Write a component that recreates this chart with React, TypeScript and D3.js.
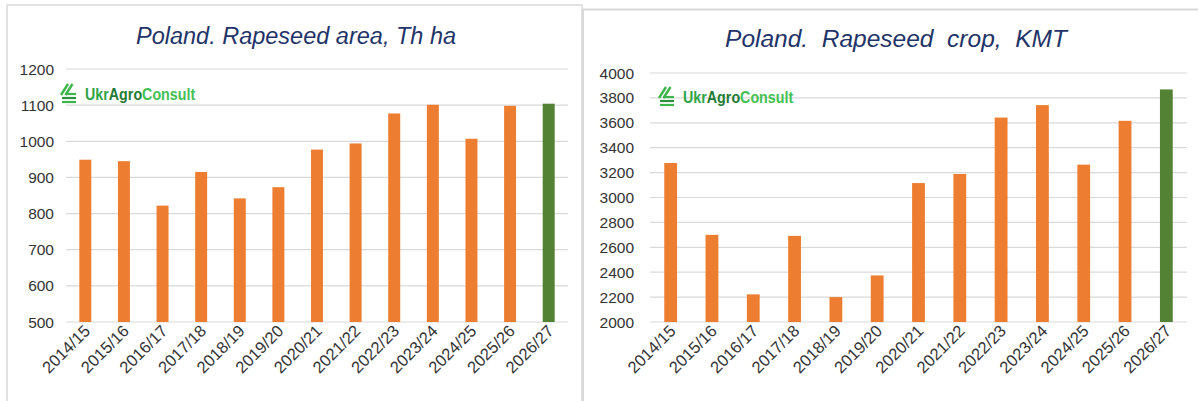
import * as d3 from 'd3'
import React from 'react'

const seasons = ['2014/15', '2015/16', '2016/17', '2017/18', '2018/19', '2019/20', '2020/21',
  '2021/22', '2022/23', '2023/24', '2024/25', '2025/26', '2026/27']
const areaValues = [949, 945, 822, 915, 842, 873, 977, 994, 1077, 1101, 1007, 1098, 1104]
const cropValues = [3277, 2700, 2222, 2692, 2200, 2374, 3116, 3189, 3642, 3742, 3264, 3616, 3868]
const areaTicks = [500, 600, 700, 800, 900, 1000, 1100, 1200]
const cropTicks = [2000, 2200, 2400, 2600, 2800, 3000, 3200, 3400, 3600, 3800, 4000]
const forecastSeason = '2026/27'
const logoParts = [['Ukr', '#2fa447'], ['Agro', '#1f7a33'], ['Consult', '#43c152']]

const ORANGE = '#ED7D31'
const GREEN = '#548235'
const GRID = '#d9d9d9'
const TITLE = '#1F3468'
const LABEL = '#333333'
const FONT = 'Liberation Sans, Arial, sans-serif'

export default function App() {
  const ref = React.useRef<SVGSVGElement>(null)

  React.useEffect(() => {
    const svg = d3.select(ref.current)
    svg.selectAll('*').remove()
    drawFrames(svg)
    drawChart(svg, {
      title: 'Poland. Rapeseed area, Th ha', titleX: 296, titleY: 44, titleSize: 23.5,
      values: areaValues, ticks: areaTicks, domain: [500, 1200],
      x0: 66, x1: 568, yTop: 69, yBottom: 322, labelX: 54, logoX: 60, logoY: 84,
    })
    drawChart(svg, {
      title: 'Poland.  Rapeseed  crop,  KMT', titleX: 896, titleY: 47, titleSize: 24.5,
      values: cropValues, ticks: cropTicks, domain: [2000, 4000],
      x0: 650, x1: 1187, yTop: 73, yBottom: 322, labelX: 634, logoX: 658, logoY: 87,
    })
  }, [])

  function drawFrames(svg: any) {
    svg.append('rect')
      .attr('x', 7).attr('y', 5).attr('width', 575).attr('height', 410)
      .attr('fill', '#fff').attr('stroke', GRID).attr('stroke-width', 1.5)
    svg.append('line')
      .attr('x1', 583).attr('x2', 1198).attr('y1', 9.5).attr('y2', 9.5)
      .attr('stroke', GRID).attr('stroke-width', 2)
    svg.append('line')
      .attr('x1', 583).attr('x2', 583).attr('y1', 9).attr('y2', 401)
      .attr('stroke', GRID).attr('stroke-width', 2)
  }

  function drawLogo(g: any, x: number, y: number) {
    const logo = g.append('g').attr('transform', `translate(${x},${y})`)
    // slanted stripes + three bars
    logo.append('line').attr('x1', 1).attr('y1', 11).attr('x2', 8).attr('y2', 0)
      .attr('stroke', '#3db54a').attr('stroke-width', 2.4)
    logo.append('line').attr('x1', 5.5).attr('y1', 11).attr('x2', 12.5).attr('y2', 0)
      .attr('stroke', '#3db54a').attr('stroke-width', 2.4)
    ;[10, 14, 18].forEach((yy, i) => {
      logo.append('line').attr('x1', i === 0 ? 5 : 2).attr('x2', 16).attr('y1', yy).attr('y2', yy)
        .attr('stroke', i === 1 ? '#2b8f3c' : '#3db54a').attr('stroke-width', 2.2)
    })
    // condensed wordmark
    const word = logo.append('g').attr('transform', 'translate(25,0) scale(0.84,1)')
    let cx = 0
    logoParts.forEach(([part, color]) => {
      const t = word.append('text')
        .attr('x', cx).attr('y', 16)
        .attr('font-family', FONT)
        .attr('font-weight', 'bold').attr('font-size', 17)
        .attr('fill', color)
        .text(part)
      cx += (t.node() as SVGTextElement).getComputedTextLength()
    })
  }

  function drawChart(svg: any, c: any) {
    const g = svg.append('g')
    const x = d3.scaleBand<string>().domain(seasons).range([c.x0, c.x1])
      .paddingInner(0.69).paddingOuter(0.345)
    const y = d3.scaleLinear().domain(c.domain).range([c.yBottom, c.yTop])

    g.append('text')
      .attr('x', c.titleX).attr('y', c.titleY)
      .attr('text-anchor', 'middle')
      .attr('font-family', FONT).attr('font-style', 'italic').attr('font-size', c.titleSize)
      .attr('fill', TITLE)
      .style('white-space', 'pre')
      .text(c.title)

    g.selectAll('.grid')
      .data(c.ticks).enter().append('line')
      .attr('x1', c.x0).attr('x2', c.x1)
      .attr('y1', (d: number) => y(d)).attr('y2', (d: number) => y(d))
      .attr('stroke', GRID).attr('stroke-width', 1.2)

    g.selectAll('.ylab')
      .data(c.ticks).enter().append('text')
      .attr('x', c.labelX).attr('y', (d: number) => y(d) + 5.5)
      .attr('text-anchor', 'end')
      .attr('font-family', FONT).attr('font-size', 15.5).attr('fill', LABEL)
      .text((d: number) => d)

    drawLogo(g, c.logoX, c.logoY)

    g.selectAll('.bar')
      .data(c.values).enter().append('rect')
      .attr('x', (d: number, i: number) => x(seasons[i]))
      .attr('y', (d: number) => y(d))
      .attr('width', x.bandwidth())
      .attr('height', (d: number) => y(c.domain[0]) - y(d))
      .attr('fill', (d: number, i: number) => seasons[i] === forecastSeason ? GREEN : ORANGE)

    g.selectAll('.xlab')
      .data(seasons).enter().append('text')
      .attr('transform', (d: string) => `translate(${(x(d) as number) + x.bandwidth() / 2 + 6},${c.yBottom + 10}) rotate(-45)`)
      .attr('text-anchor', 'end')
      .attr('font-family', FONT).attr('font-size', 16.5).attr('fill', LABEL)
      .text((d: string) => d)
  }

  return (
    <svg ref={ref} width={1198} height={401}
      style={{ position: 'absolute', left: 0, top: 0, background: '#fff' }} />
  )
}
